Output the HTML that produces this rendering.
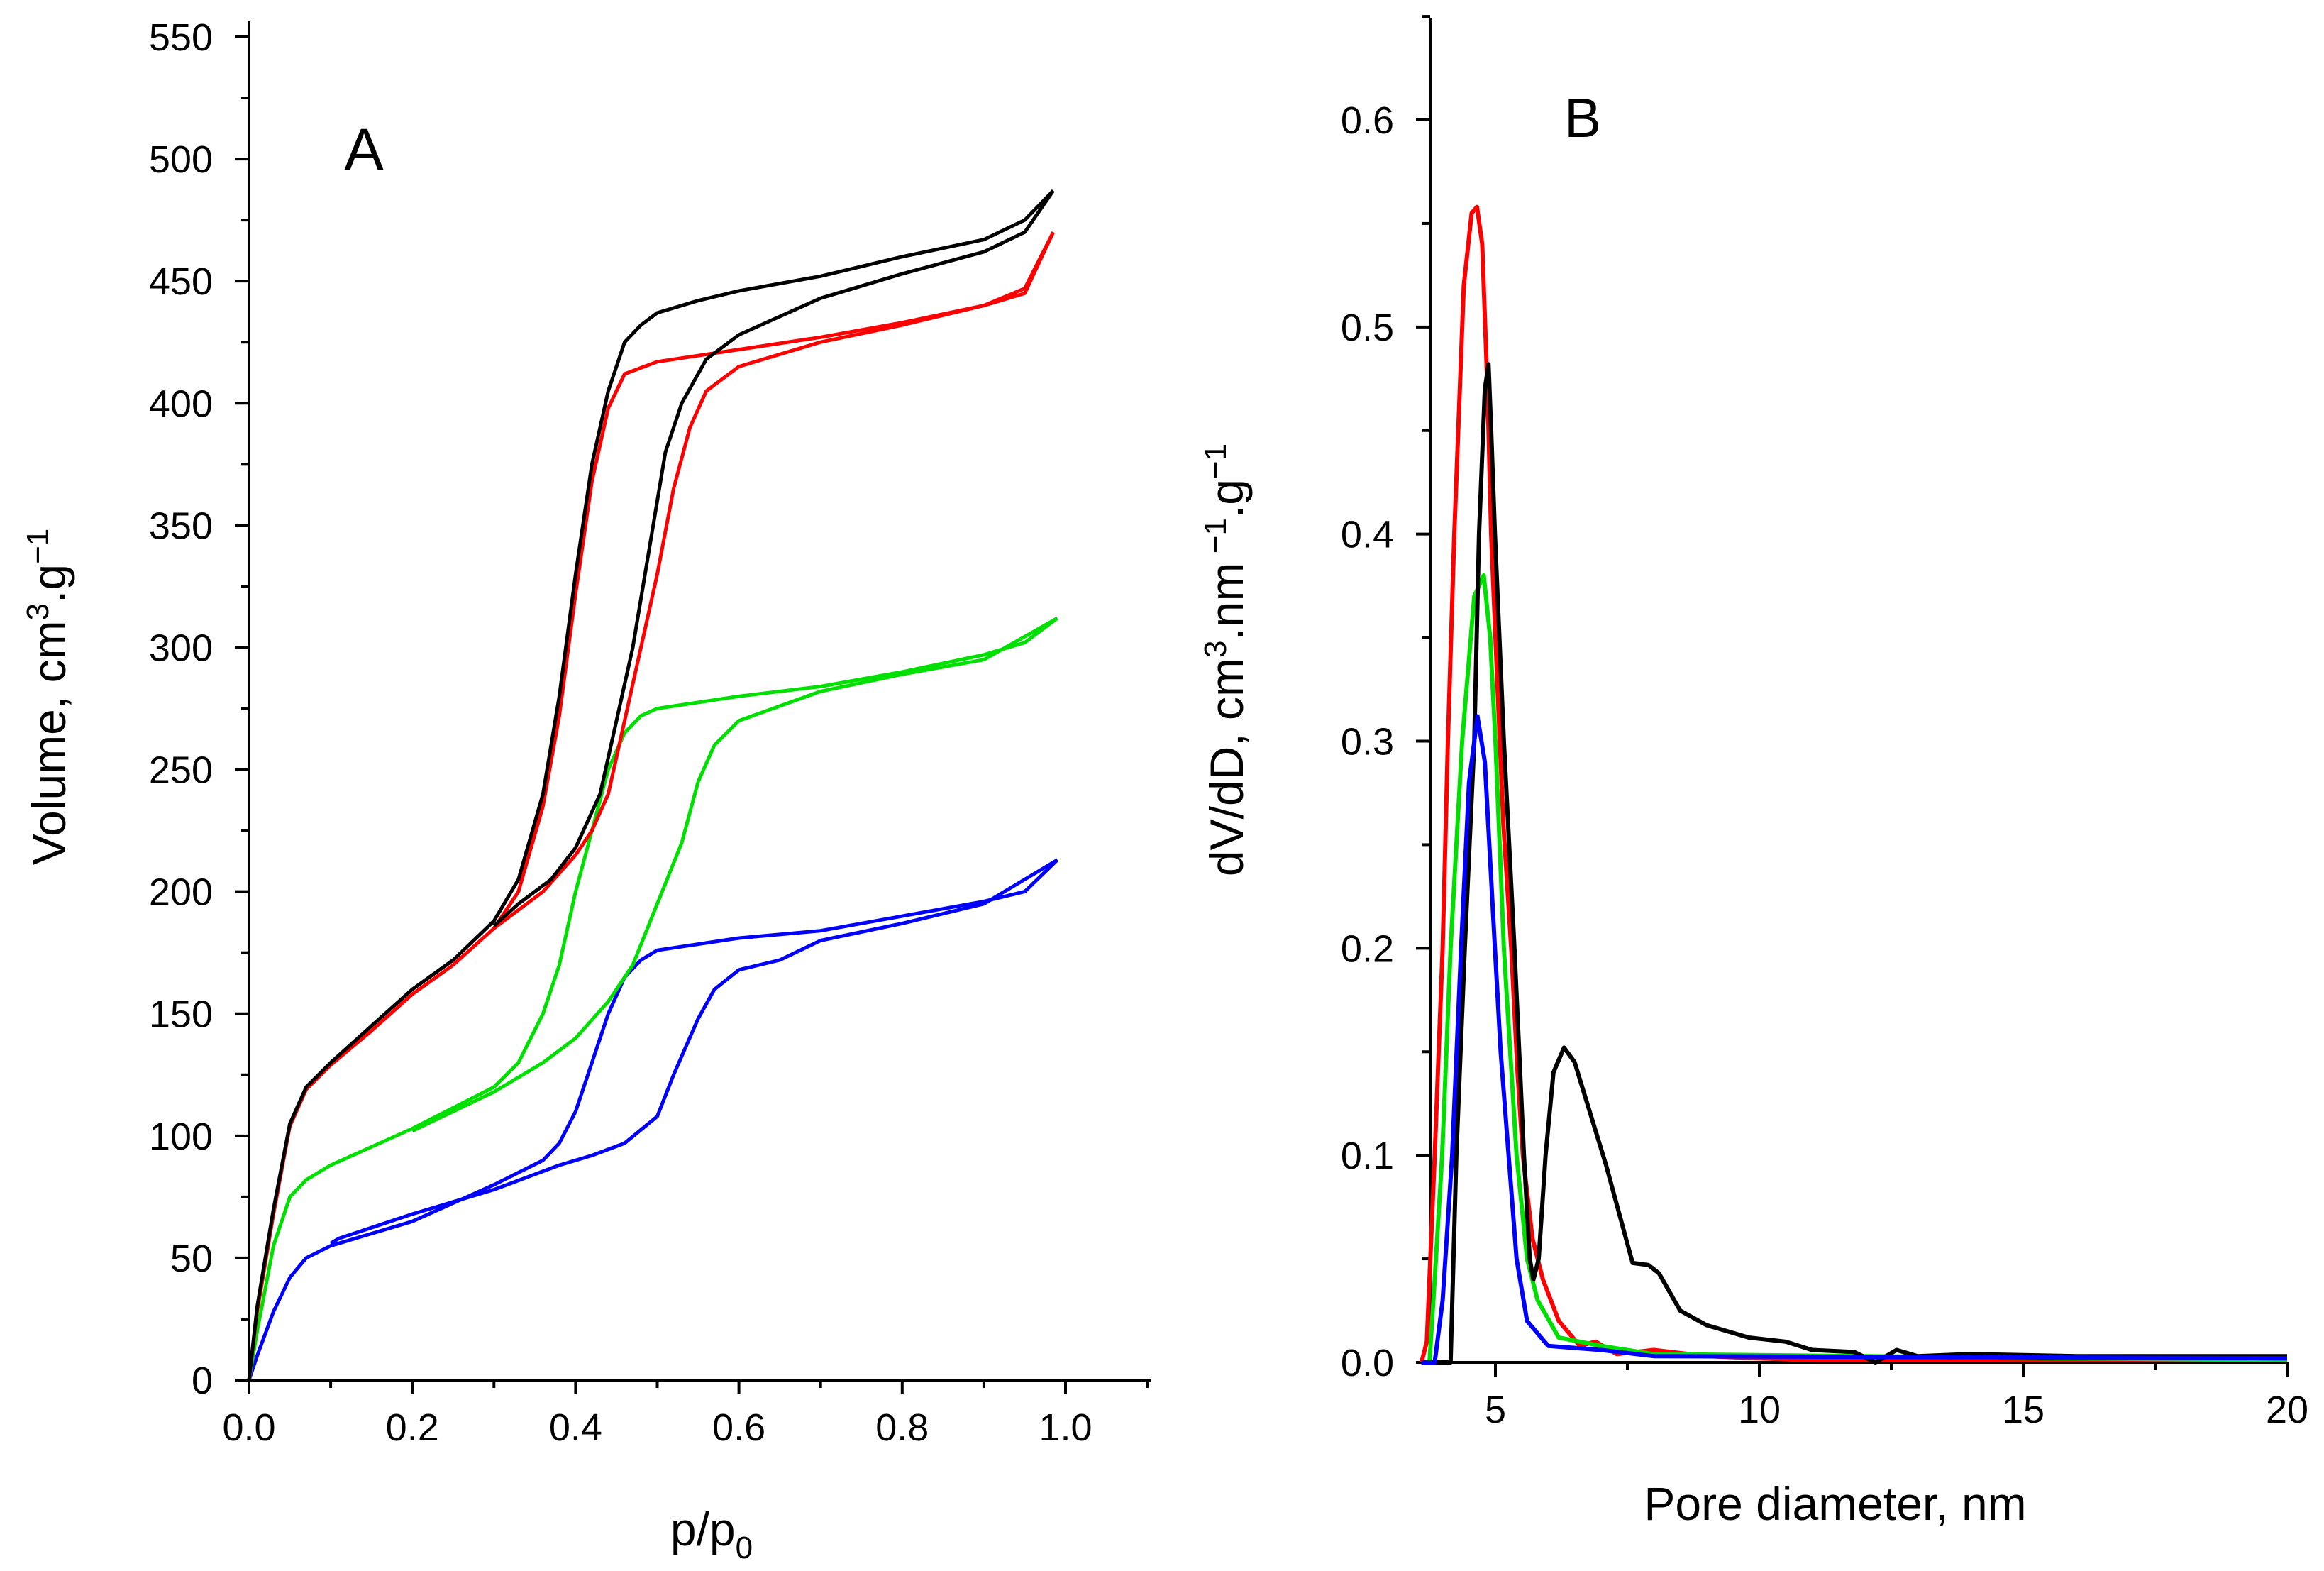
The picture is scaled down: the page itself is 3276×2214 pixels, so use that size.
<!DOCTYPE html>
<html><head><meta charset="utf-8">
<style>
html,body{margin:0;padding:0;background:#fff;}
svg{display:block;font-family:"Liberation Sans",sans-serif;}
</style></head>
<body>
<svg id="chart" width="3276" height="2214" viewBox="0 0 3276 2214" xmlns="http://www.w3.org/2000/svg">
<g id="panelA"></g>
<g id="panelB"></g>
<text x="485" y="240" font-size="84">A</text>
<text x="2205" y="193" font-size="78">B</text>
<text x="1003" y="2178" font-size="66" text-anchor="middle">p/p<tspan font-size="44" dy="18">0</tspan></text>
<text x="2587" y="2142" font-size="66" text-anchor="middle">Pore diameter, nm</text>
<text transform="translate(92,982) rotate(-90)" font-size="66" text-anchor="middle">Volume, cm<tspan font-size="44" dy="-24">3</tspan><tspan dy="24">.g</tspan><tspan font-size="44" dy="-24">−1</tspan></text>
<text transform="translate(1752,930) rotate(-90)" font-size="66" text-anchor="middle">dV/dD, cm<tspan font-size="44" dy="-24">3</tspan><tspan dy="24">.nm</tspan><tspan font-size="44" dy="-24"> −1</tspan><tspan dy="24">.g</tspan><tspan font-size="44" dy="-24">−1</tspan></text>
</svg>
<script>
// ---- Panel A data (p/p0, volume) ----
const blackAds=[[0,0],[0.01,30],[0.03,70],[0.05,105],[0.07,120],[0.1,130],[0.15,145],[0.2,160],[0.25,172],[0.3,188],[0.33,205],[0.36,240],[0.38,280],[0.40,330],[0.42,375],[0.44,405],[0.46,425],[0.48,432],[0.5,437],[0.55,442],[0.6,446],[0.7,452],[0.8,460],[0.9,467],[0.95,475],[0.985,487]];
const blackDes=[[0.985,487],[0.95,470],[0.9,462],[0.8,453],[0.7,443],[0.6,428],[0.56,418],[0.53,400],[0.51,380],[0.49,340],[0.47,300],[0.45,270],[0.43,240],[0.40,218],[0.37,205],[0.33,195],[0.3,186]];
const redAds=[[0,0],[0.01,28],[0.03,68],[0.05,104],[0.07,119],[0.1,129],[0.15,143],[0.2,158],[0.25,170],[0.3,185],[0.33,200],[0.36,235],[0.38,272],[0.40,322],[0.42,368],[0.44,398],[0.46,412],[0.5,417],[0.6,422],[0.7,427],[0.8,433],[0.9,440],[0.95,447],[0.985,470]];
const redDes=[[0.985,470],[0.95,445],[0.9,440],[0.8,432],[0.7,425],[0.6,415],[0.56,405],[0.54,390],[0.52,365],[0.50,330],[0.48,300],[0.46,270],[0.44,240],[0.42,225],[0.40,215],[0.36,200],[0.3,185]];
const greenAds=[[0,0],[0.01,20],[0.03,55],[0.05,75],[0.07,82],[0.1,88],[0.2,103],[0.3,120],[0.33,130],[0.36,150],[0.38,170],[0.40,200],[0.42,225],[0.44,250],[0.46,265],[0.48,272],[0.5,275],[0.6,280],[0.7,284],[0.8,290],[0.9,297],[0.95,302],[0.99,312]];
const greenDes=[[0.99,312],[0.9,295],[0.8,289],[0.7,282],[0.6,270],[0.57,260],[0.55,245],[0.53,220],[0.5,195],[0.47,170],[0.44,155],[0.40,140],[0.36,130],[0.3,118],[0.2,102]];
const blueAds=[[0,0],[0.01,10],[0.03,28],[0.05,42],[0.07,50],[0.1,55],[0.2,65],[0.3,80],[0.36,90],[0.38,97],[0.4,110],[0.42,130],[0.44,150],[0.46,165],[0.48,172],[0.5,176],[0.6,181],[0.7,184],[0.8,190],[0.9,196],[0.95,200],[0.99,213]];
const blueDes=[[0.99,213],[0.9,195],[0.8,187],[0.7,180],[0.65,172],[0.6,168],[0.57,160],[0.55,148],[0.52,125],[0.50,108],[0.46,97],[0.42,92],[0.38,88],[0.3,78],[0.2,68],[0.11,58],[0.1,56]];
const aXTicks=[0,0.2,0.4,0.6,0.8,1.0];
const aXLabels=["0.0","0.2","0.4","0.6","0.8","1.0"];
const aYTicks=[0,50,100,150,200,250,300,350,400,450,500,550];
// ---- Panel B data (diameter nm, dV/dD) ----
const redPsd=[[3.6,0],[3.7,0.01],[3.85,0.1],[4.0,0.2],[4.1,0.3],[4.22,0.4],[4.4,0.52],[4.55,0.555],[4.65,0.558],[4.75,0.54],[4.85,0.47],[4.92,0.4],[5.05,0.32],[5.15,0.26],[5.3,0.2],[5.42,0.14],[5.52,0.1],[5.7,0.06],[5.9,0.04],[6.2,0.02],[6.6,0.008],[6.9,0.01],[7.3,0.004],[8,0.006],[9,0.003],[11,0.001],[20,0.001]];
const blackPsd=[[3.6,0],[4.15,0],[4.26,0.1],[4.42,0.2],[4.6,0.3],[4.69,0.4],[4.8,0.47],[4.87,0.482],[4.92,0.45],[4.99,0.4],[5.16,0.3],[5.36,0.2],[5.54,0.1],[5.65,0.05],[5.72,0.04],[5.82,0.05],[5.95,0.1],[6.1,0.14],[6.3,0.152],[6.5,0.145],[6.8,0.12],[7.1,0.095],[7.45,0.062],[7.6,0.048],[7.9,0.047],[8.1,0.043],[8.5,0.025],[9,0.018],[9.8,0.012],[10.5,0.01],[11,0.006],[11.8,0.005],[12.2,0],[12.6,0.006],[13,0.003],[14,0.004],[16,0.003],[20,0.003]];
const greenPsd=[[3.6,0],[3.75,0],[3.85,0.04],[3.99,0.1],[4.15,0.2],[4.37,0.3],[4.6,0.37],[4.78,0.38],[4.9,0.35],[5.0,0.3],[5.16,0.2],[5.4,0.1],[5.6,0.05],[5.8,0.03],[6.2,0.012],[7,0.008],[8,0.004],[20,0.001]];
const bluePsd=[[3.6,0],[3.85,0],[4.0,0.03],[4.18,0.1],[4.35,0.2],[4.5,0.28],[4.66,0.312],[4.8,0.29],[4.99,0.2],[5.1,0.15],[5.25,0.1],[5.4,0.05],[5.6,0.02],[6.0,0.008],[7,0.006],[8,0.003],[20,0.002]];
const bXTicks=[5,10,15,20];
const bYTicks=[0,0.1,0.2,0.3,0.4,0.5,0.6];
const bYLabels=["0.0","0.1","0.2","0.3","0.4","0.5","0.6"];

const NS="http://www.w3.org/2000/svg";
function mk(parent,tag,attrs){const e=document.createElementNS(NS,tag);for(const k in attrs)e.setAttribute(k,attrs[k]);parent.appendChild(e);return e;}
const ax=v=>351+v*(1502-351), ay=v=>1945-v*(1945-52)/550;
const bx=v=>2108+(v-5)*(3224-2108)/15, by=v=>1920-v*(1920-169)/0.6;

const A=document.getElementById('panelA'), B=document.getElementById('panelB');
let l=mk(A,'line',{x1:351,y1:30,x2:351,y2:1945,stroke:'#000','stroke-width':4});


l=mk(A,'line',{x1:351,y1:1945,x2:1623,y2:1945,stroke:'#000','stroke-width':4});


for(let v=0;v<=550;v+=25){const maj=v%50===0;mk(A,'line',{x1:351-(maj?20:11),y1:ay(v),x2:351,y2:ay(v),stroke:'#000','stroke-width':4});}
aYTicks.forEach(v=>{const t=mk(A,'text',{x:300,y:ay(v)+19,'font-size':54,'text-anchor':'end'});t.textContent=v;

});
for(let i=0;i<=11;i++){const v=i/10;const maj=i%2===0;mk(A,'line',{x1:ax(v),y1:1945,x2:ax(v),y2:1945+(maj?20:11),stroke:'#000','stroke-width':4});}
aXTicks.forEach((v,i)=>{const t=mk(A,'text',{x:ax(v),y:2030,'font-size':54,'text-anchor':'middle'});t.textContent=aXLabels[i];

});
function drawA(arr,col,name){const d=arr.map((p,i)=>(i?'L':'M')+ax(p[0]).toFixed(1)+','+ay(p[1]).toFixed(1)).join('');
const p=mk(A,'path',{d:d,fill:'none',stroke:col,'stroke-width':5,'stroke-linejoin':'round'});

}
drawA(blueAds,'#0000ff','blue-adsorption');drawA(blueDes,'#0000ff','blue-desorption');
drawA(greenAds,'#00e000','green-adsorption');drawA(greenDes,'#00e000','green-desorption');
drawA(redAds,'#ff0000','red-adsorption');drawA(redDes,'#ff0000','red-desorption');
drawA(blackAds,'#000','black-adsorption');drawA(blackDes,'#000','black-desorption');

l=mk(B,'line',{x1:2016,y1:25,x2:2016,y2:1920,stroke:'#000','stroke-width':4});


l=mk(B,'line',{x1:2016,y1:1920,x2:3224,y2:1920,stroke:'#000','stroke-width':4});


for(let i=0;i<=13;i++){const v=i*0.05;const maj=i%2===0;mk(B,'line',{x1:2016-(maj?20:11),y1:by(v),x2:2016,y2:by(v),stroke:'#000','stroke-width':4});}
bYTicks.forEach((v,i)=>{const t=mk(B,'text',{x:1965,y:by(v)+19,'font-size':54,'text-anchor':'end'});t.textContent=bYLabels[i];

});
for(let v=5;v<=20;v+=2.5){const maj=v%5===0;mk(B,'line',{x1:bx(v),y1:1920,x2:bx(v),y2:1920+(maj?20:11),stroke:'#000','stroke-width':4});}
bXTicks.forEach(v=>{const t=mk(B,'text',{x:bx(v),y:2005,'font-size':54,'text-anchor':'middle'});t.textContent=v;

});
function drawB(arr,col,name){const d=arr.map((p,i)=>(i?'L':'M')+bx(p[0]).toFixed(1)+','+by(p[1]).toFixed(1)).join('');
const p=mk(B,'path',{d:d,fill:'none',stroke:col,'stroke-width':6,'stroke-linejoin':'round'});

}
drawB(redPsd,'#ff0000','red-psd');drawB(greenPsd,'#00e000','green-psd');
drawB(blackPsd,'#000','black-psd');drawB(bluePsd,'#0000ff','blue-psd');
</script>
</body></html>
